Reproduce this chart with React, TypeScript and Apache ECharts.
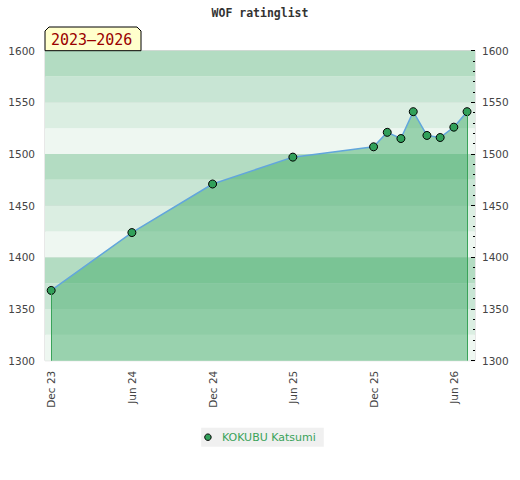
import React, { useEffect, useRef } from "react";
import * as echarts from "echarts";

const titleText = "WOF ratinglist";
const periodLabel = "2023–2026";
const seriesName = "KOKUBU Katsumi";

const dates = [
  "2023-12-01", "2024-06-01", "2024-12-01", "2025-06-01", "2025-12-01",
  "2026-01-01", "2026-02-01", "2026-03-01", "2026-04-01", "2026-05-01",
  "2026-06-01", "2026-07-01",
];
const ratings = [1368, 1424, 1471, 1497, 1507, 1521, 1515, 1541, 1518, 1516, 1526, 1541];

const tickDates = ["2023-12-01", "2024-06-01", "2024-12-01", "2025-06-01", "2025-12-01", "2026-06-01"];
const tickLabels = ["Dec 23", "Jun 24", "Dec 24", "Jun 25", "Dec 25", "Jun 26"];

const xRange = ["2023-11-17", "2026-07-19"];
const yRange = [1300, 1600];
const bandColors = ["#eef7f1", "#dbeee2", "#c8e5d4", "#b3dcc2"];

const ts = (d: string) => {
  const [y, m, dd] = d.split("-").map(Number);
  return Date.UTC(y, m - 1, dd);
};

export default function App() {
  const ref = useRef<HTMLDivElement>(null);
  useEffect(() => {
    if (!ref.current) return;
    const chart = echarts.init(ref.current, null, { renderer: "svg" });
    const tickTs = tickDates.map(ts);
    const labelFont = { fontFamily: "DejaVu Sans", fontSize: 10.5, color: "#444" };
    const plain = (v: number) => String(v);
    const n = dates.length;
    chart.setOption({
      animation: false,
      title: {
        text: titleText,
        left: "center",
        top: 7,
        padding: 0,
        textStyle: { fontFamily: "DejaVu Sans Mono", fontSize: 11.5, fontWeight: "bold", color: "#333" },
      },
      legend: {
        data: [{ name: seriesName, icon: "circle", itemStyle: { borderWidth: 1 } }],
        left: "center",
        top: 427.7,
        itemWidth: 18,
        itemHeight: 6.5,
        padding: [4, 8, 4, 3],
        backgroundColor: "#f0f0f0",
        textStyle: { fontFamily: "DejaVu Sans", fontSize: 11, color: "#3aa35a" },
      },
      grid: {
        left: 45,
        right: 45,
        top: 50.7,
        bottom: 119.3,
        show: true,
        borderColor: "#d0d0d0",
        borderWidth: 1,
        backgroundColor: "transparent",
      },
      xAxis: {
        type: "value",
        min: ts(xRange[0]),
        max: ts(xRange[1]),
        axisLine: { show: false },
        axisTick: { show: false },
        splitLine: { show: false },
        axisLabel: {
          ...labelFont,
          rotate: 90,
          margin: 10,
          customValues: tickTs,
          formatter: (v: number) => {
            const i = tickTs.findIndex((t) => Math.abs(t - v) < 86400000);
            return i >= 0 ? tickLabels[i] : "";
          },
        },
      },
      yAxis: [
        {
          type: "value",
          position: "left",
          min: yRange[0],
          max: yRange[1],
          interval: 50,
          axisLine: { show: false },
          axisTick: { show: false },
          axisLabel: { ...labelFont, margin: 10, formatter: plain },
          splitLine: { show: true, lineStyle: { color: "#d8d8d8", width: 1 } },
        },
        {
          type: "value",
          position: "right",
          min: yRange[0],
          max: yRange[1],
          interval: 50,
          axisLine: { show: false },
          axisTick: { show: true, inside: true, length: 4, lineStyle: { color: "#000" } },
          minorTick: { show: true, splitNumber: 5, length: 2, lineStyle: { color: "#000" } },
          axisLabel: { ...labelFont, margin: 7, formatter: plain },
          splitLine: { show: false },
        },
        {
          type: "value",
          position: "right",
          min: yRange[0],
          max: yRange[1],
          interval: 25,
          axisLine: { show: false },
          axisTick: { show: false },
          axisLabel: { show: false },
          splitLine: { show: false },
          splitArea: { show: true, areaStyle: { color: bandColors } },
        },
      ],
      graphic: [
        {
          type: "polygon",
          z: 100,
          shape: {
            points: [
              [45, 50.7], [45, 31], [49, 27], [137, 27], [141, 31], [141, 50.7],
            ],
          },
          style: { fill: "#ffffcc", stroke: "#000", lineWidth: 1 },
        },
        {
          type: "text",
          z: 101,
          x: 51,
          y: 39.5,
          style: {
            text: periodLabel,
            fill: "#990000",
            fontFamily: "DejaVu Sans Mono",
            fontSize: 15,
            verticalAlign: "middle",
            align: "left",
          },
        },
      ],
      series: [
        {
          name: seriesName,
          type: "line",
          yAxisIndex: 0,
          data: dates.map((d, i) => [ts(d), ratings[i]]),
          symbol: "circle",
          symbolSize: 8,
          showSymbol: true,
          itemStyle: { color: "#31a05a", borderColor: "#000", borderWidth: 1 },
          lineStyle: { color: "#62a6dc", width: 1.5 },
          areaStyle: { color: "rgb(61,169,101)", opacity: 0.48, origin: "start" },
          markLine: {
            silent: true,
            symbol: ["none", "none"],
            label: { show: false },
            lineStyle: { color: "#3aa35a", width: 1, type: "solid" },
            data: [
              [{ coord: [ts(dates[0]), yRange[0]] }, { coord: [ts(dates[0]), ratings[0]] }],
              [{ coord: [ts(dates[n - 1]), yRange[0]] }, { coord: [ts(dates[n - 1]), ratings[n - 1]] }],
            ],
          },
        },
      ],
    });
    return () => chart.dispose();
  }, []);
  return (
    <div
      ref={ref}
      style={{ position: "absolute", left: 0, top: 0, width: 520, height: 480 }}
    />
  );
}
